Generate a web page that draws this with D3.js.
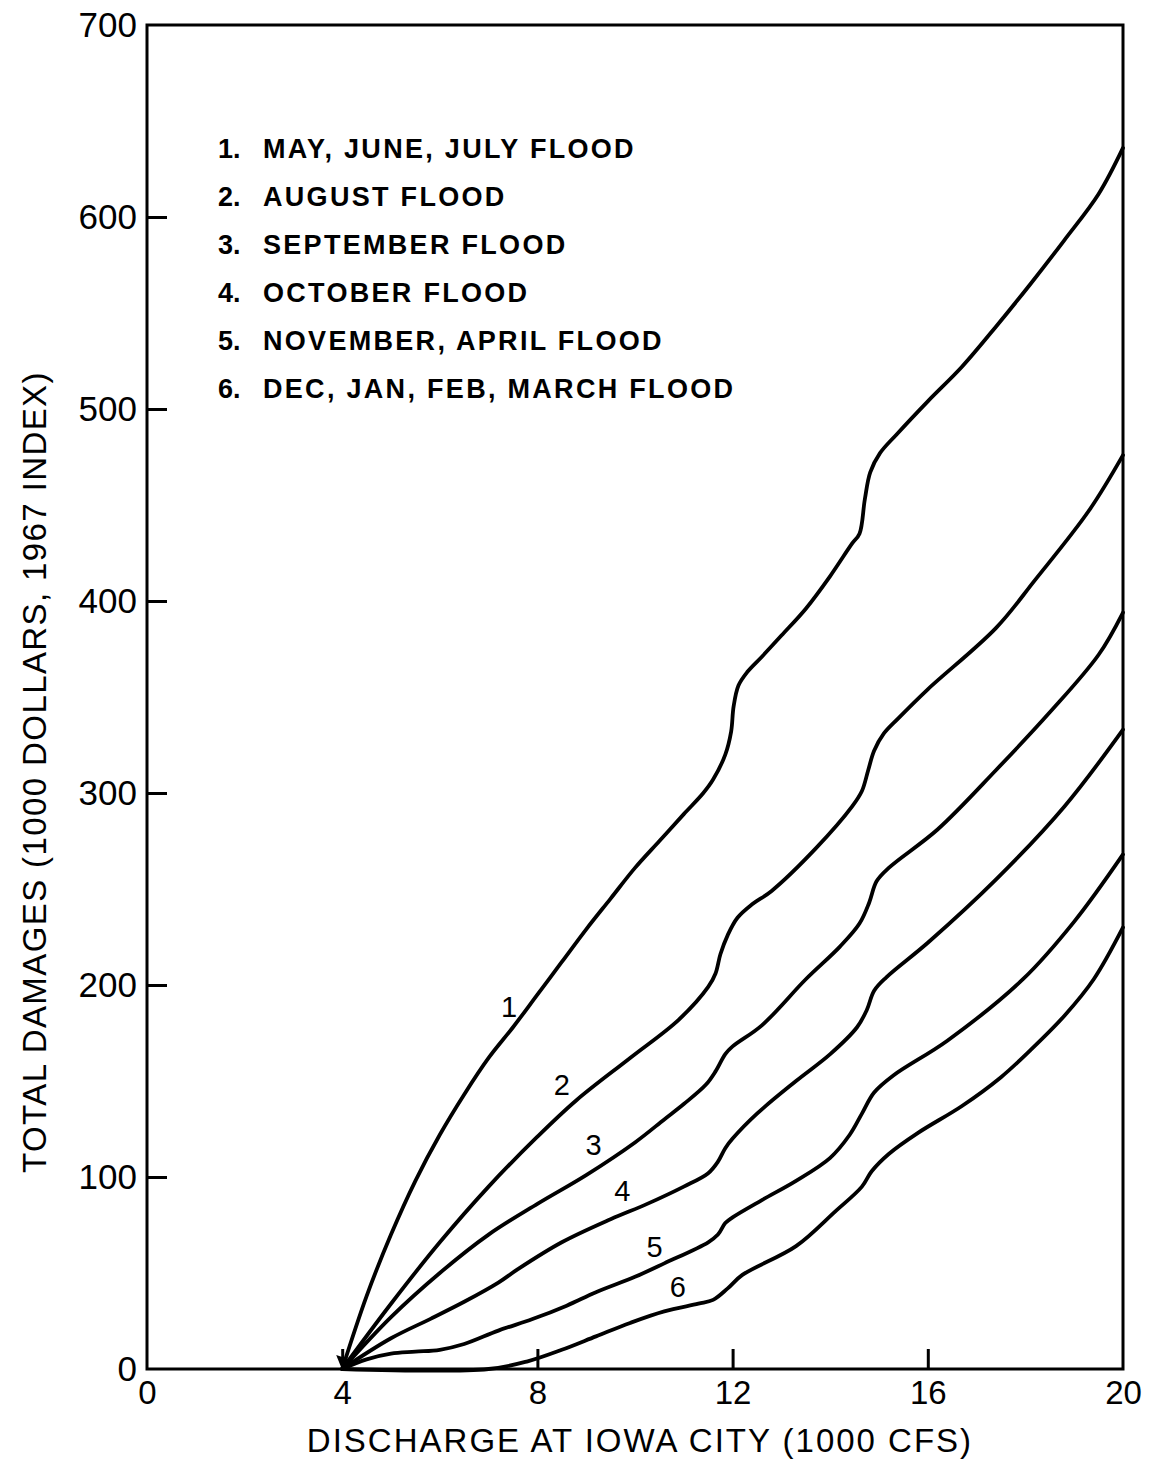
<!DOCTYPE html>
<html>
<head>
<meta charset="utf-8">
<script src="https://cdn.jsdelivr.net/npm/d3@7"></script>
<style>
  body { margin: 0; background: #fff; }
  svg { display: block; }
</style>
</head>
<body>
<svg class="chartSVG" width="1154" height="1463"></svg>
<script>
// values (discharge in 1000 cfs, damages in 1000 dollars)
const q1 = [4, 4.5, 5, 5.5, 6, 6.5, 7, 7.5, 8, 8.5, 9, 9.5, 10, 10.5, 11, 11.4, 11.6, 11.85, 11.97, 12.02, 12.12, 12.3, 12.6, 13, 13.5, 14, 14.45, 14.6, 14.71, 14.82, 15.02, 15.37, 16, 16.7, 17.4, 18.1, 18.8, 19.5, 20];
const d1 = [0, 38, 70, 98, 122, 143, 162, 178, 195, 212, 229, 245, 261, 275, 289, 300, 307, 320, 332, 345, 356, 363, 371, 382, 396, 413, 430, 435, 453, 467, 477, 487, 504, 522, 543, 565, 588, 612, 636];

const q2 = [4, 5, 6, 7, 8, 8.8, 9.9, 10.9, 11.5, 11.65, 11.75, 11.9, 12.1, 12.4, 12.8, 13.7, 14.45, 14.65, 14.78, 14.9, 15.1, 15.4, 16, 17.4, 18.2, 19.3, 20];
const d2 = [0, 34, 66, 95, 121, 140, 162, 182, 199, 206, 216, 226, 235, 242, 249, 271, 293, 301, 312, 322, 331, 339, 354, 386, 411, 447, 476];

const q3 = [4, 5, 6, 7, 8, 9, 10, 10.6, 11, 11.45, 11.65, 11.85, 12, 12.6, 13.5, 14.2, 14.6, 14.8, 14.95, 15.2, 16.2, 17.4, 18.5, 19.5, 20];
const d3v = [0, 27, 50, 70, 86, 101, 118, 130, 138, 148, 155, 164, 168, 179, 203, 220, 232, 243, 254, 261, 281, 312, 342, 372, 394];

const q4 = [4, 5, 5.8, 6.5, 7.2, 7.6, 8.5, 9.5, 10.25, 11, 11.5, 11.7, 11.85, 12, 12.5, 13.3, 14, 14.55, 14.75, 14.9, 15.15, 16, 17.4, 18.8, 20];
const d4 = [0, 16, 26, 35, 45, 52, 66, 78, 86, 95, 102, 108, 115, 120, 133, 150, 164, 178, 187, 197, 204, 222, 255, 293, 333];

const q5 = [4, 4.5, 5, 5.5, 6, 6.5, 7.2, 7.9, 8.6, 9.2, 10, 10.6, 11.5, 11.7, 11.85, 12, 12.6, 13.3, 14, 14.4, 14.65, 14.9, 15.3, 16.4, 17.95, 19, 20];
const d5 = [0, 5, 8, 9, 10, 13, 20, 26, 33, 40, 48, 55, 66, 70, 76, 79, 88, 98, 110, 122, 133, 144, 153, 171, 203, 233, 268];

const q6 = [4, 7, 7.8, 8.5, 9.2, 9.9, 10.6, 11.3, 11.6, 11.9, 12.2, 13.3, 14.1, 14.65, 14.85, 15.2, 15.8, 16.7, 17.5, 18.1, 18.8, 19.4, 20];
const d6 = [0, 0, 4, 10, 17, 24, 30, 34, 36, 42, 49, 64, 82, 95, 103, 112, 123, 137, 152, 166, 184, 203, 230];

const seriesQ = [q1, q2, q3, q4, q5, q6];
const seriesD = [d1, d2, d3v, d4, d5, d6];
const curveNames = ['1', '2', '3', '4', '5', '6'];
// where each curve number is written (discharge, damages)
const labelQ = [7.42, 8.5, 9.15, 9.74, 10.4, 10.88];
const labelD = [189, 148, 117, 93, 64, 43];

const legendNums = ['1.', '2.', '3.', '4.', '5.', '6.'];
const legendNames = [
  'MAY, JUNE, JULY FLOOD',
  'AUGUST FLOOD',
  'SEPTEMBER FLOOD',
  'OCTOBER FLOOD',
  'NOVEMBER, APRIL FLOOD',
  'DEC, JAN, FEB, MARCH FLOOD'
];

const xTicks = [0, 4, 8, 12, 16, 20];
const yTicks = [0, 100, 200, 300, 400, 500, 600, 700];
const xTitle = 'DISCHARGE AT IOWA CITY (1000 CFS)';
const yTitle = 'TOTAL DAMAGES (1000 DOLLARS, 1967 INDEX)';

const font = "'Liberation Sans', Arial, sans-serif";

const svg = d3.select('svg.chartSVG');

const x = d3.scaleLinear().domain([0, 20]).range([147, 1123]);
const y = d3.scaleLinear().domain([0, 700]).range([1369, 25]);

// frame
svg.append('rect')
  .attr('x', x(0))
  .attr('y', y(700))
  .attr('width', x(20) - x(0))
  .attr('height', y(0) - y(700))
  .style('fill', 'none')
  .style('stroke', '#000')
  .style('stroke-width', 3);

// y axis: inward ticks
const yAxis = d3.axisLeft(y)
  .tickValues(yTicks)
  .tickSizeInner(-20)
  .tickSizeOuter(0)
  .tickFormat(d3.format('d'));

const yG = svg.append('g').attr('transform', `translate(${x(0)},0)`).call(yAxis);
yG.select('.domain').remove();
yG.selectAll('.tick line').style('stroke', '#000').style('stroke-width', 3)
  .filter(d => d === 0 || d === 700).remove();
yG.selectAll('.tick text')
  .attr('x', -10)
  .style('font-family', font)
  .style('font-size', '35px')
  .style('fill', '#000');

// x axis: inward ticks
const xAxis = d3.axisBottom(x)
  .tickValues(xTicks)
  .tickSizeInner(-20)
  .tickSizeOuter(0)
  .tickFormat(d3.format('d'));

const xG = svg.append('g').attr('transform', `translate(0,${y(0)})`).call(xAxis);
xG.select('.domain').remove();
xG.selectAll('.tick line').style('stroke', '#000').style('stroke-width', 3)
  .filter(d => d === 0 || d === 20).remove();
xG.selectAll('.tick text')
  .attr('y', 12)
  .attr('dy', '0.71em')
  .style('font-family', font)
  .style('font-size', '33px')
  .style('fill', '#000');

// axis titles
svg.append('text')
  .attr('x', 640)
  .attr('y', 1452)
  .attr('text-anchor', 'middle')
  .text(xTitle)
  .style('font-family', font)
  .style('font-size', '33px')
  .style('letter-spacing', '2px');

svg.append('text')
  .attr('transform', 'translate(46,772) rotate(-90)')
  .attr('text-anchor', 'middle')
  .text(yTitle)
  .style('font-family', font)
  .style('font-size', '33px')
  .style('letter-spacing', '1.4px');

// damage curves
const lineGen = d3.line()
  .x(d => x(d[0]))
  .y(d => y(d[1]))
  .curve(d3.curveCatmullRom.alpha(0.5));

const curves = seriesQ.map((qs, i) => qs.map((q, j) => [q, seriesD[i][j]]));

svg.append('g').attr('class', 'curves')
  .selectAll('path')
  .data(curves)
  .enter()
  .append('path')
  .attr('d', lineGen)
  .style('fill', 'none')
  .style('stroke', '#000')
  .style('stroke-width', 3.8)
  .style('stroke-linejoin', 'round')
  .style('stroke-linecap', 'round');

// little arrow head where the curves meet
svg.append('path')
  .attr('d', `M${x(4) - 6},${y(0) - 14} L${x(4) + 6},${y(0) - 10} L${x(4)},${y(0) + 1} Z`)
  .style('fill', '#000');

// curve numbers
svg.append('g').attr('class', 'curveLabels')
  .selectAll('text')
  .data(curveNames)
  .enter()
  .append('text')
  .attr('x', (d, i) => x(labelQ[i]))
  .attr('y', (d, i) => y(labelD[i]))
  .attr('dy', '0.36em')
  .attr('text-anchor', 'middle')
  .text(d => d)
  .style('font-family', font)
  .style('font-size', '29px');

// legend
const legend = svg.append('g').attr('class', 'legend');
legend.selectAll('text.num')
  .data(legendNums)
  .enter()
  .append('text')
  .attr('class', 'num')
  .attr('x', 218)
  .attr('y', (d, i) => 158 + i * 48)
  .text(d => d)
  .style('font-family', font)
  .style('font-weight', 'bold')
  .style('font-size', '27px');

legend.selectAll('text.name')
  .data(legendNames)
  .enter()
  .append('text')
  .attr('class', 'name')
  .attr('x', 263)
  .attr('y', (d, i) => 158 + i * 48)
  .text(d => d)
  .style('font-family', font)
  .style('font-weight', 'bold')
  .style('font-size', '27px')
  .style('letter-spacing', '2.3px');
</script>
</body>
</html>
